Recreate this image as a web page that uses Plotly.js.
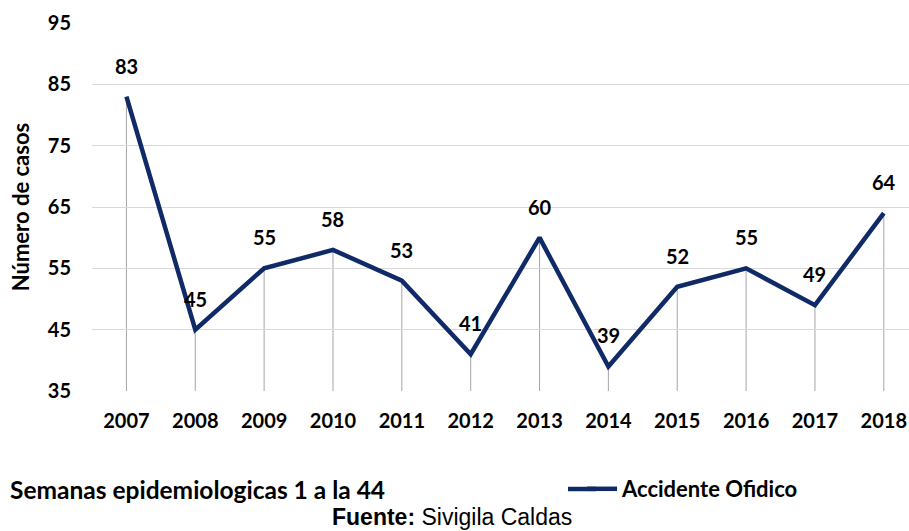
<!DOCTYPE html>
<html>
<head>
<meta charset="utf-8">
<script src="https://cdn.plot.ly/plotly-3.0.1.min.js"></script>
<style>html,body{margin:0;padding:0;background:#fff;}#chart{width:909px;height:531px;}</style>
</head>
<body>
<div id="chart"></div>
<script>
const years = ["2007","2008","2009","2010","2011","2012","2013","2014","2015","2016","2017","2018"];
const cases = [83, 45, 55, 58, 53, 41, 60, 39, 52, 55, 49, 64];
const yTicks = [35, 45, 55, 65, 75, 85, 95];
const seriesName = "Accidente Ofidico";
const yTitle = "Número de casos";
const noteLeft = "Semanas epidemiologicas 1 a la 44";
const sourceLabel = "Fuente:";
const sourceText = "Sivigila Caldas";

const FONT = "Lato, 'Open Sans', sans-serif";
const LINE = "#0F2A66";
const yMin = 35;
const PW = 817, PH = 368, PL = 92, PB = 391;
const px = v => (v - PL) / PW;
const py = v => (PB - v) / PH;

const shapes = years.map((y, i) => ({
  type: "line", xref: "x", yref: "y", layer: "below",
  x0: i, x1: i, y0: yMin, y1: cases[i],
  line: {color: "#A6A6A6", width: 1}
}));
// longer legend swatch
shapes.push({
  type: "line", xref: "paper", yref: "paper",
  x0: px(568), x1: px(596), y0: py(489), y1: py(489),
  line: {color: LINE, width: 4.5}
});

const annotations = years.map((y, i) => ({
  x: i, y: cases[i], xref: "x", yref: "y",
  text: String(cases[i]), showarrow: false,
  yanchor: "middle", yshift: 31,
  font: {family: FONT, size: 20, color: "#000", weight: 700}
}));

annotations.push({
  xref: "paper", yref: "paper", x: px(8), y: py(489),
  xanchor: "left", yanchor: "middle", showarrow: false,
  text: noteLeft,
  font: {family: FONT, size: 24.5, color: "#000", weight: 700}
});
annotations.push({
  xref: "paper", yref: "paper", x: px(452), y: py(517),
  xanchor: "center", yanchor: "middle", showarrow: false,
  text: "<b>" + sourceLabel + "</b> " + sourceText,
  font: {family: "'Liberation Sans', Arial, sans-serif", size: 23, color: "#000"}
});

const data = [{
  x: years, y: cases, type: "scatter", mode: "lines",
  name: seriesName,
  line: {color: LINE, width: 4.5},
  hoverinfo: "x+y"
}];

const layout = {
  width: 909, height: 531,
  margin: {l: 92, r: 0, t: 23, b: 140},
  paper_bgcolor: "#fff", plot_bgcolor: "#fff",
  showlegend: true,
  legend: {
    orientation: "h", x: px(582), y: py(489),
    xanchor: "left", yanchor: "middle",
    font: {family: FONT, size: 22, color: "#000", weight: 700},
    bgcolor: "rgba(0,0,0,0)", itemwidth: 30
  },
  xaxis: {
    type: "category", range: [-0.5, 11.366],
    showgrid: false, zeroline: false, showline: false,
    ticks: "", ticklabelstandoff: 16,
    tickfont: {family: FONT, size: 20, color: "#000", weight: 700},
    fixedrange: true
  },
  yaxis: {
    range: [35, 95], tickvals: yTicks,
    showgrid: true, gridcolor: "#D9D9D9", gridwidth: 1,
    zeroline: false, showline: false, ticks: "",
    ticklabelstandoff: 20,
    tickfont: {family: FONT, size: 20, color: "#000", weight: 700},
    title: {text: yTitle, standoff: 12, font: {family: FONT, size: 22, color: "#000", weight: 700}},
    fixedrange: true
  },
  shapes: shapes,
  annotations: annotations
};

Plotly.newPlot("chart", data, layout, {displayModeBar: false, staticPlot: true});
</script>
</body>
</html>
